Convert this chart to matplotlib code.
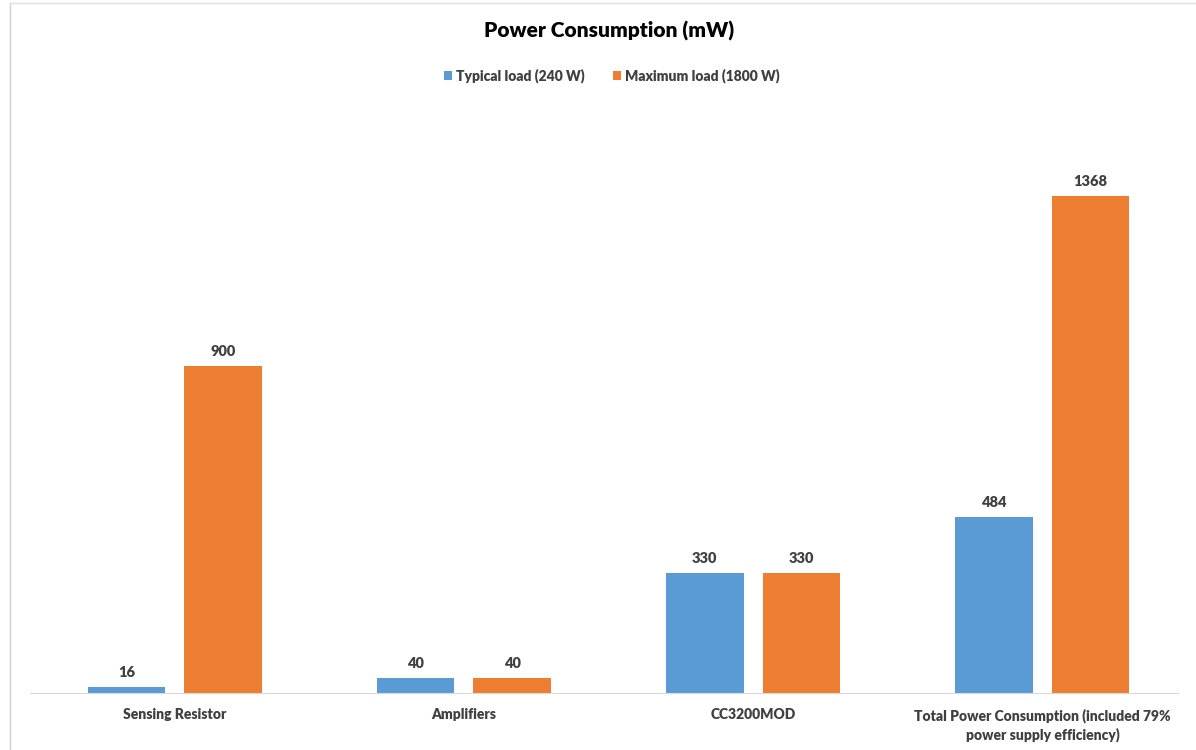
import matplotlib.pyplot as plt
from matplotlib.lines import Line2D
import numpy as np

plt.rcParams['font.family'] = ['Lato', 'DejaVu Sans']

categories = ["Sensing Resistor", "Amplifiers", "CC3200MOD",
              "Total Power Consumption (included 79%\npower supply efficiency)"]
typical = [16, 40, 330, 484]
maximum = [900, 40, 330, 1368]
series_names = ["Typical load (240 W)", "Maximum load (1800 W)"]

blue = '#5B9BD5'
orange = '#ED7D31'
text_color = '#404040'

W, H = 1196, 750
fig = plt.figure(figsize=(W / 100, H / 100), dpi=100)
ax = fig.add_axes([30 / W, 57 / H, 1157 / W, 545 / H])

x = np.arange(len(categories))
width = 0.268
offset = 0.167
bars_t = ax.bar(x - offset, typical, width, color=blue, label=series_names[0])
bars_m = ax.bar(x + offset, maximum, width, color=orange, label=series_names[1])

for bars in (bars_t, bars_m):
    for b in bars:
        ax.annotate(f"{b.get_height():g}", (b.get_x() + b.get_width() / 2, b.get_height()),
                    xytext=(0, 6), textcoords='offset points', ha='center', va='bottom',
                    fontsize=10.5, fontweight='heavy', color=text_color)

ax.set_xlim(-0.5, 3.5)
ax.set_ylim(0, 1500)
ax.set_yticks([])
ax.set_xticks(x)
ax.set_xticklabels(categories, fontsize=10, fontweight='heavy', color=text_color,
                   linespacing=1.4)
ax.tick_params(axis='x', length=0, pad=11)
for side in ('top', 'right', 'left'):
    ax.spines[side].set_visible(False)
ax.spines['bottom'].set_color('#D9D9D9')
ax.spines['bottom'].set_bounds(-0.5, 3.47)

fig.text(609 / W, 1 - 31 / H, "Power Consumption (mW)", ha='center', va='center',
         fontsize=15, fontweight='heavy', color='black')

leg = fig.legend(handles=[bars_t, bars_m], labels=series_names, loc='center',
                 bbox_to_anchor=(612 / W, 1 - 76 / H), ncol=2, frameon=False,
                 handlelength=0.6, handleheight=0.6, handletextpad=0.3, columnspacing=2.0,
                 prop={'size': 10, 'weight': 'heavy'})
for t in leg.get_texts():
    t.set_color(text_color)

# faint page frame on the left and top edges
fig.add_artist(Line2D([10 / W, 10 / W], [0, 1 - 3 / H], color='#D0D0D0', lw=1))
fig.add_artist(Line2D([10 / W, 1], [1 - 3 / H, 1 - 3 / H], color='#E0E0E0', lw=1))

fig.savefig("out.png", dpi=100)
